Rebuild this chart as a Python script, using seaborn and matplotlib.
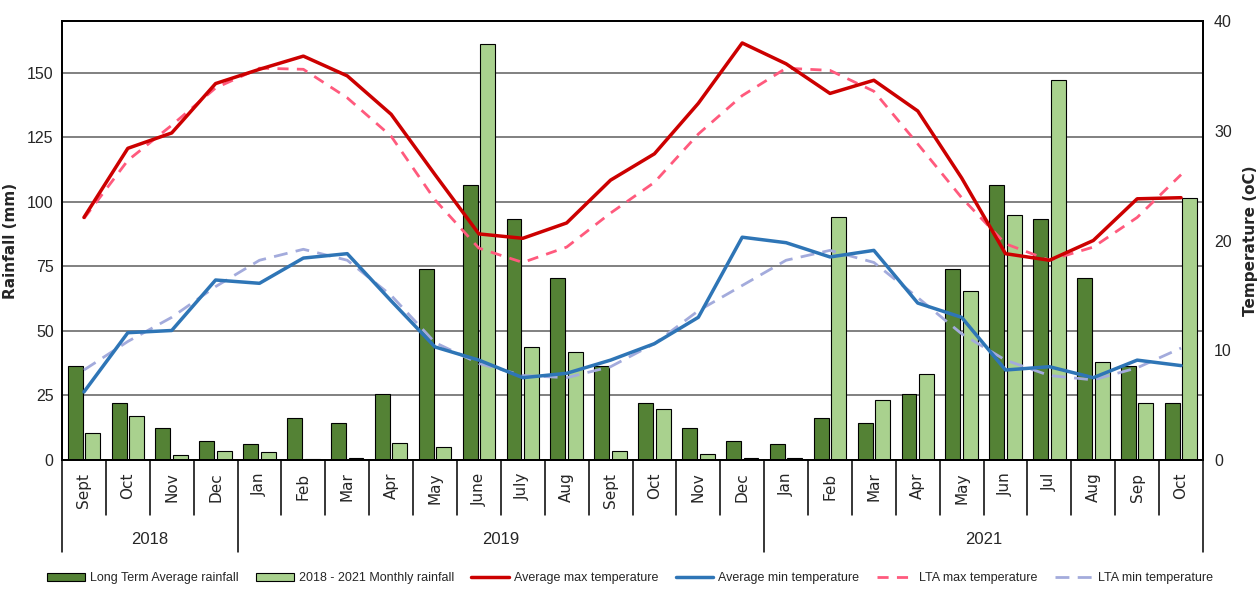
import numpy as np
import pandas as pd
import matplotlib
matplotlib.use("Agg")
import matplotlib.pyplot as plt
import seaborn as sns
from matplotlib.patches import Patch
from matplotlib.lines import Line2D

# ---------------- data ----------------
months = ["Sept", "Oct", "Nov", "Dec", "Jan", "Feb", "Mar", "Apr", "May", "June",
          "July", "Aug", "Sept", "Oct", "Nov", "Dec", "Jan", "Feb", "Mar", "Apr",
          "May", "Jun", "Jul", "Aug", "Sep", "Oct"]
years = ["2018", "2019", "2021"]
year_spans = [4, 12, 10]

lta_rain = [36.5, 22, 12.5, 7.3, 6.2, 16.2, 14.3, 25.5, 74, 106.3, 93.3, 70.3,
            36.5, 22, 12.5, 7.3, 6.2, 16.2, 14.3, 25.5, 74, 106.3, 93.3, 70.3,
            36.5, 22]
monthly_rain = [10.4, 17, 2, 3.5, 3.1, 0.4, 0.8, 6.7, 5, 161, 43.7, 41.7,
                3.5, 19.7, 2.3, 0.8, 0.8, 94, 23.2, 33.2, 65.3, 94.7, 147.3, 37.9,
                22, 101.3]

max_temp = [22.1, 28.4, 29.8, 34.3, 35.6, 36.8, 35.0, 31.5, 26.0, 20.6, 20.2, 21.6,
            25.5, 27.9, 32.5, 38.0, 36.1, 33.4, 34.6, 31.8, 25.7, 18.8, 18.2, 20.0,
            23.8, 23.9]
min_temp = [6.2, 11.6, 11.8, 16.4, 16.1, 18.4, 18.8, 14.5, 10.3, 9.1, 7.5, 7.9,
            9.1, 10.6, 13.0, 20.3, 19.8, 18.5, 19.1, 14.3, 13.0, 8.2, 8.5, 7.5,
            9.1, 8.6]
lta_max_temp = [22.0, 27.3, 30.5, 33.9, 35.7, 35.6, 33.0, 29.5, 23.7, 19.3, 18.0, 19.4,
                22.5, 25.3, 29.7, 33.2, 35.7, 35.5, 33.6, 28.8, 23.9, 19.7, 18.2, 19.4,
                22.1, 26.0]
lta_min_temp = [8.2, 10.8, 13.0, 15.8, 18.2, 19.2, 18.2, 15.0, 10.7, 8.8, 7.7, 7.5,
                8.5, 10.6, 13.6, 15.9, 18.2, 19.1, 18.0, 14.8, 11.5, 9.1, 7.7, 7.3,
                8.4, 10.2]

series_names = ["Long Term Average rainfall", "2018 - 2021 Monthly rainfall",
                "Average max temperature", "Average min temperature",
                "LTA max temperature", "LTA min temperature"]

# ---------------- style ----------------
DARK = "#548235"
LIGHT = "#A9D18E"
RED = "#CC0000"
BLUE = "#2E75B6"
PINK = "#FF5A7D"
LAV = "#A3ABDC"

sns.set_theme(style="white")
plt.rcParams["font.family"] = ["DejaVu Sans"]
NARROW = ["Liberation Sans", "DejaVu Sans"]

n = len(months)
x = np.arange(n)

fig = plt.figure(figsize=(12.6, 5.9), dpi=100)
ax = fig.add_axes([62 / 1260, 1 - 460 / 590, (1203 - 62) / 1260, (460 - 21) / 590])

df = pd.DataFrame({
    "idx": np.concatenate([x, x]),
    "rain": lta_rain + monthly_rain,
    "series": [series_names[0]] * n + [series_names[1]] * n,
})
sns.barplot(data=df, x="idx", y="rain", hue="series",
            hue_order=series_names[:2], palette=[DARK, LIGHT], saturation=1,
            width=0.8, gap=0.15, edgecolor="black", linewidth=0.8,
            legend=False, ax=ax)

ax.set_xlim(-0.5, n - 0.5)
ax.set_ylim(0, 170)
ax.set_yticks(range(0, 151, 25))
ax.yaxis.grid(True, color="#808080", linewidth=1.4)
ax.xaxis.grid(False)
ax.set_axisbelow(True)
ax.set_xticks(x)
ax.set_xticklabels(months, rotation=90, fontsize=11)
ax.tick_params(axis="x", length=0, pad=9)
ax.tick_params(axis="y", length=0, pad=6, labelsize=11.5)
for lab in ax.get_yticklabels():
    lab.set_family(NARROW)
ax.set_xlabel("")
ax.set_ylabel("Rainfall (mm)", fontweight="bold", fontsize=11)
ax.yaxis.set_label_coords(-0.039, 0.5)
for s in ax.spines.values():
    s.set_color("black")
    s.set_linewidth(1.3)

# temperature axis
ax2 = ax.twinx()
sns.lineplot(x=x, y=lta_max_temp, ax=ax2, color=PINK, linewidth=2.0,
             linestyle=(0, (4, 3)))
sns.lineplot(x=x, y=lta_min_temp, ax=ax2, color=LAV, linewidth=2.0,
             linestyle=(0, (5, 3)))
sns.lineplot(x=x, y=max_temp, ax=ax2, color=RED, linewidth=2.5)
sns.lineplot(x=x, y=min_temp, ax=ax2, color=BLUE, linewidth=2.5)
ax2.set_ylim(0, 40)
ax2.set_yticks(range(0, 41, 10))
ax2.grid(False)
ax2.tick_params(axis="y", length=0, pad=8, labelsize=11.5)
for lab in ax2.get_yticklabels():
    lab.set_family(NARROW)
ax2.set_ylabel("Temperature (oC)", fontweight="bold", fontsize=11)
ax2.yaxis.set_label_coords(1.035, 0.5)
ax2.set_xlim(-0.5, n - 0.5)
for s in ax2.spines.values():
    s.set_color("black")
    s.set_linewidth(1.3)

# category separators and year groups below the axis
xt = ax.get_xaxis_transform()
bounds = np.arange(n + 1) - 0.5
group_edges = np.concatenate([[0], np.cumsum(year_spans)]) - 0.5
for b in bounds:
    depth = -0.21 if b in group_edges else -0.125
    ax.plot([b, b], [0, depth], transform=xt, color="black", lw=1.1,
            clip_on=False)
starts = np.concatenate([[0], np.cumsum(year_spans)[:-1]])
for yr, st, sp in zip(years, starts, year_spans):
    ax.text(st - 0.5 + sp / 2, -0.182, yr, transform=xt, ha="center",
            va="center", fontsize=12, family=NARROW)
ax.set_xlim(-0.5, n - 0.5)

# legend
handles = [
    Patch(facecolor=DARK, edgecolor="black", linewidth=0.8),
    Patch(facecolor=LIGHT, edgecolor="black", linewidth=0.8),
    Line2D([], [], color=RED, lw=2.5),
    Line2D([], [], color=BLUE, lw=2.5),
    Line2D([], [], color=PINK, lw=2.0, linestyle=(0, (4, 3))),
    Line2D([], [], color=LAV, lw=2.0, linestyle=(0, (5, 3))),
]
fig.legend(handles, series_names, loc="center", bbox_to_anchor=(0.5, 1 - 578 / 590),
           ncol=6, frameon=False, prop={"family": NARROW, "size": 9},
           handlelength=3.0, handleheight=0.6, columnspacing=1.4, handletextpad=0.4)

fig.savefig("out.png", dpi=100)
